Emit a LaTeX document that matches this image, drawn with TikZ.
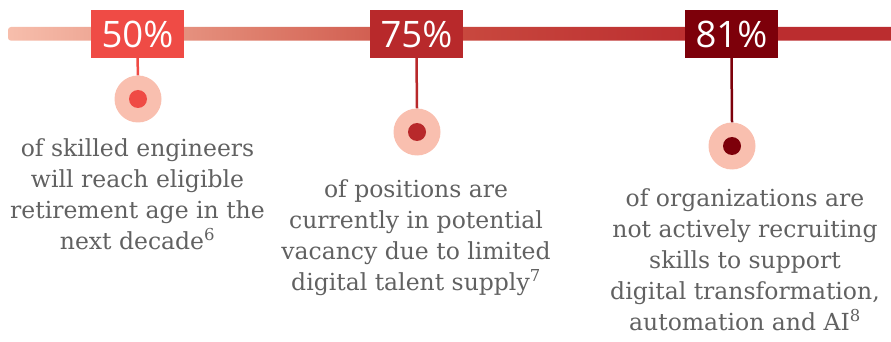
\documentclass[tikz,border=0pt]{standalone}
\usepackage{fontspec}
\setmainfont{DejaVu Serif}
\newfontfamily\pctfont{Open Sans}
\definecolor{barA}{HTML}{F7BEAC}
\definecolor{barB}{HTML}{DE7E6C}
\definecolor{barC}{HTML}{C9493F}
\definecolor{barD}{HTML}{BB2D2F}
\definecolor{cone}{HTML}{EF4B45}
\definecolor{ctwo}{HTML}{B8292B}
\definecolor{cthree}{HTML}{7D000A}
\definecolor{halo}{HTML}{F9BFAF}
\definecolor{txt}{HTML}{616161}
\pgfdeclarehorizontalshading{barshade}{100bp}{color(0bp)=(barA); color(25bp)=(barA); color(39bp)=(barB); color(50bp)=(barC); color(64bp)=(barD); color(100bp)=(barD)}
\tikzset{
  pctbox/.style={rectangle, minimum width=93pt, minimum height=48pt, inner sep=0pt, text=white, font=\pctfont\fontsize{36.5}{36.5}\selectfont},
  halonode/.style={circle, fill=halo, minimum size=47pt, inner sep=0pt},
  dotnode/.style={circle, minimum size=18pt, inner sep=0pt},
  stemline/.style={line width=2.5pt},
  desc/.style={align=center, inner sep=0pt, text=txt, font=\fontsize{23.5}{31}\selectfont, anchor=north}
}
\begin{document}
\begin{tikzpicture}[x=1pt,y=-1pt]
\useasboundingbox (0,0) rectangle (891,342);
\shade[shading=barshade, rounded corners=3pt] (8,27) rectangle (896,40.7);
% boxes
\node[pctbox, fill=cone] (p1) at (137.5,34) {50\%};
\node[pctbox, fill=ctwo] (p2) at (416.5,34) {75\%};
\node[pctbox, fill=cthree] (p3) at (731.5,34) {81\%};
% halos
\node[halonode] (o1) at (138,99) {};
\node[halonode] (o2) at (417,132) {};
\node[halonode] (o3) at (732,146) {};
\node[dotnode, fill=cone] (d1) at (o1) {};
\node[dotnode, fill=ctwo] (d2) at (o2) {};
\node[dotnode, fill=cthree] (d3) at (o3) {};
% stems
\draw[stemline, cone] (p1.south) -- (o1.north);
\draw[stemline, ctwo] (p2.south) -- (o2.north);
\draw[stemline, cthree] (p3.south) -- (o3.north);
% texts
\node[desc] (t1) at (137.5,138) {of skilled engineers\\will reach eligible\\retirement age in the\\next decade\textsuperscript{6}};
\node[desc] (t2) at (416,179) {of positions are\\currently in potential\\vacancy due to limited\\digital talent supply\textsuperscript{7}};
\node[desc] (t3) at (745,188) {of organizations are\\not actively recruiting\\skills to support\\digital transformation,\\automation and AI\textsuperscript{8}};
\end{tikzpicture}
\end{document}
